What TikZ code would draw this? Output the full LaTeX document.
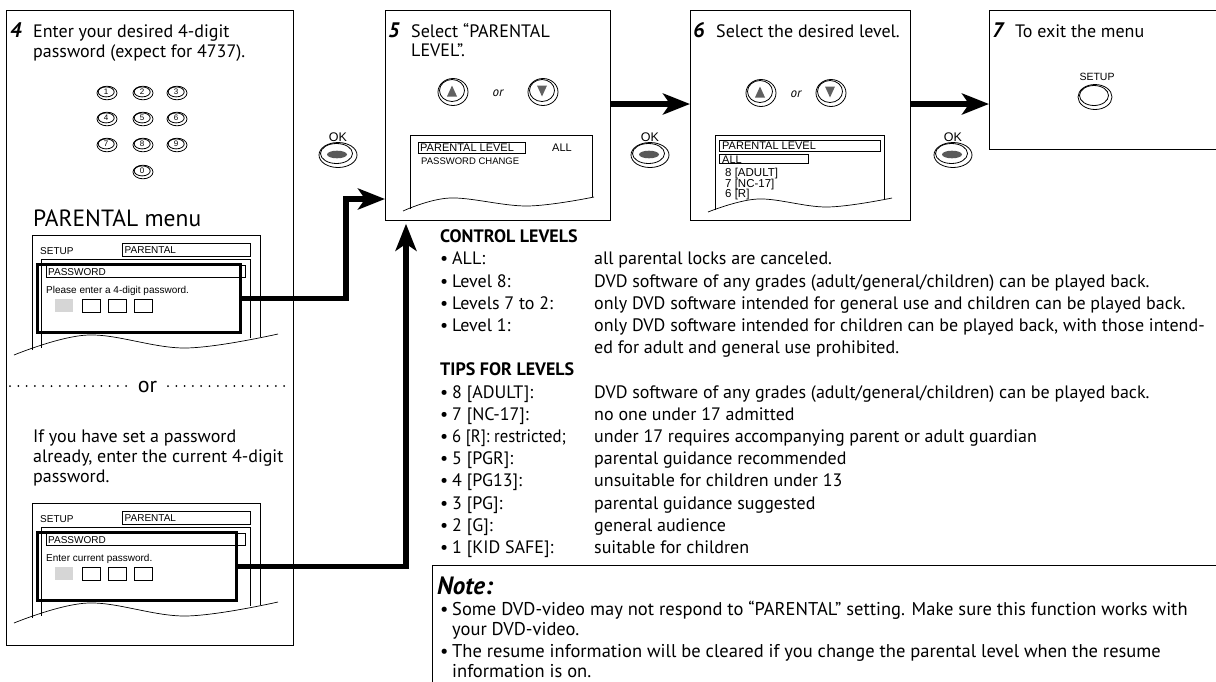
\documentclass[tikz,border=0pt]{standalone}
\usepackage{fontspec}
\setmainfont{PT Sans}
\newfontfamily\scrfont{Liberation Sans}
\usetikzlibrary{arrows.meta}
\newcommand\pwscreen[4]{%
\begin{scope}[shift={(0,#2)}]
 \draw[thinl] (32,350.1) -- (32,235) -- (260,235) -- (260,336.7);
 \draw[thinl] (41,347.7) -- (41,259) -- (250,259) -- (250,338.2);
 \draw[thinl] plot[smooth,tension=0.6] coordinates {(14,355) (88,335) (185,348) (278,334)};
 \node[sc] (#1setup) at (40,254) {SETUP};
 \node[fld, minimum width=128, minimum height=13] (#1pf) at (122,243) {};
 \node[sc] (#1pt) at (124.5,253.5) {PARENTAL};
 \node[fld, minimum width=199, minimum height=12] (#1pw) at (46,265) {};
 \node[sc] (#1pwt) at (48,275) {PASSWORD};
 \node[hl, minimum width=#4-36, minimum height=68] (#1hl) at (36,263) {};
 \node[sc] (#1msg) at (46,293) {#3};
 \fill[black!16] (55,299) rectangle (73,312);
 \draw[thinl] (82,299) rectangle (100,312);
 \draw[thinl] (108,299) rectangle (126,312);
 \draw[thinl] (134,299) rectangle (152,312);
\end{scope}}
\newcommand\abtn[4]{%
 \draw[btn] (#2,#3) ellipse [x radius=15pt, y radius=13.5pt];
 \draw[btn] (#2-1,#3-1.5) ellipse [x radius=12.5pt, y radius=11pt];
 \fill[black!62] (#2-1,#3-1-5.5*#4) -- (#2+4,#3-1+5.5*#4) -- (#2-6,#3-1+5.5*#4) -- cycle;
 \coordinate (#1) at (#2,#3);}
\newcommand\okbtn[3]{%
 \node[sc, anchor=base, font=\scrfont\fontsize{12.5}{12.5}\selectfont] (#1) at (#2,141) {OK};
 \draw[btn] (#2,#3) ellipse [x radius=19pt, y radius=12.5pt];
 \draw[btn] (#2-1.5,#3-1.5) ellipse [x radius=16pt, y radius=10pt];
 \fill[black!65] (#2-1,#3-0.5) ellipse [x radius=10pt, y radius=3.8pt];}
\newcommand\lvrow[4]{%
 \node[txt] (#1a) at (440,#2) {•};
 \node[txt] (#1b) at (452,#2) {#3};
 \node[txt] (#1c) at (594,#2) {#4};}
\begin{document}
\begin{tikzpicture}[x=1pt,y=-1pt, line join=miter,
  panel/.style={draw, line width=1.3pt, inner sep=0pt, anchor=north west},
  txt/.style={anchor=base west, inner sep=0pt, font=\fontsize{18}{20}\selectfont},
  ntxt/.style={anchor=base west, inner sep=0pt, font=\fontsize{18.5}{20}\selectfont},
  hd/.style={anchor=base west, inner sep=0pt, font=\fontsize{18}{20}\selectfont\bfseries},
  num/.style={anchor=base west, inner sep=0pt, font=\fontsize{21}{21}\selectfont\bfseries\itshape},
  sc/.style={anchor=base west, inner sep=0pt, font=\scrfont\fontsize{10}{10}\selectfont},
  fld/.style={draw, line width=0.7pt, inner sep=0pt, anchor=north west},
  thinl/.style={line width=0.7pt},
  hl/.style={draw, line width=2.6pt, inner sep=0pt, anchor=north west},
  conn/.style={line width=5.5pt, -{Stealth[length=27pt,width=21pt,inset=7pt]}},
  btn/.style={line width=0.8pt},
  keyl/.style={inner sep=0pt, font=\scrfont\fontsize{8}{8}\selectfont},
  dots/.style={line width=2pt, line cap=round, dash pattern=on 0pt off 8.3pt},
]
\useasboundingbox (0,0) rectangle (1216,681);
% panels
\node[panel, minimum width=286.7, minimum height=635] (p4) at (6,10) {};
\node[panel, minimum width=225, minimum height=210] (p5) at (385,10) {};
\node[panel, minimum width=220, minimum height=210] (p6) at (690,10) {};
\node[panel, minimum width=240, minimum height=139] (p7) at (989,10) {};
\node[panel, minimum width=800, minimum height=200] (nbox) at (432,565) {};
% panel 4
\node[num] (n4) at (10,37) {4};
\node[txt] (t4a) at (33,37) {Enter your desired 4-digit};
\node[txt] (t4b) at (33,57) {password (expect for 4737).};
\foreach \n/\x/\y in {1/107/93, 2/143/93, 3/177/93, 4/107/119, 5/143/119, 6/177/119, 7/107/145, 8/143/145, 9/177/145, 0/143/172} {
  \draw[btn] (\x,\y) ellipse [x radius=10pt, y radius=6.8pt];
  \draw[btn] (\x-0.8,\y-1.1) ellipse [x radius=8pt, y radius=5pt];
  \node[keyl] (k\n) at (\x-0.8,\y-1.1) {\n};
}
\node[anchor=base west, inner sep=0pt, font=\fontsize{23.5}{23.5}\selectfont] (pm) at (33,226) {PARENTAL menu};
\pwscreen{sa}{0}{Please enter a 4-digit password.}{239}
\draw[dots] (10,386) -- (127,386);
\draw[dots] (168,386) -- (291,386);
\node[anchor=base, inner sep=0pt, font=\fontsize{22}{22}\selectfont] (orl) at (147.5,392) {or};
\node[txt] (t4c) at (33,442) {If you have set a password};
\node[txt] (t4d) at (33,462) {already, enter the current 4-digit};
\node[txt] (t4e) at (33,482) {password.};
\pwscreen{sb}{268}{Enter current password.}{235}
% panel 5
\node[num] (n5) at (388,37) {5};
\node[txt] (t5a) at (411,37) {Select “PARENTAL};
\node[txt] (t5b) at (411,56) {LEVEL”.};
\abtn{b5u}{453}{92}{1}
\abtn{b5d}{543}{92}{-1}
\node[anchor=base, inner sep=0pt, font=\fontsize{13}{13}\selectfont\itshape] (or5) at (498,96) {or};
\draw[thinl] (410,209) -- (410,135) -- (592,135) -- (592,197);
\draw[thinl] plot[smooth,tension=0.6] coordinates {(403,211) (450,198) (527,206) (594,197)};
\node[fld, minimum width=107, minimum height=11] (s5f) at (418,142) {};
\node[sc, font=\scrfont\fontsize{11}{11}\selectfont] (s5a) at (420,151.5) {PARENTAL LEVEL};
\node[sc, font=\scrfont\fontsize{11}{11}\selectfont] (s5b) at (552,151.5) {ALL};
\node[sc, font=\scrfont\fontsize{9.5}{9.5}\selectfont] (s5c) at (421,164.5) {PASSWORD CHANGE};
% panel 6
\node[num] (n6) at (693,37) {6};
\node[txt] (t6a) at (716,37) {Select the desired level.};
\abtn{b6u}{761}{93}{1}
\abtn{b6d}{831}{93}{-1}
\node[anchor=base, inner sep=0pt, font=\fontsize{13}{13}\selectfont\itshape] (or6) at (796,97) {or};
\draw[thinl] (715,210) -- (715,135) -- (884,135) -- (884,199);
\draw[thinl] plot[smooth,tension=0.6] coordinates {(708,212) (758,199) (827,207) (892,198)};
\node[fld, minimum width=161, minimum height=11] (s6f) at (719,140) {};
\node[sc, font=\scrfont\fontsize{11}{11}\selectfont] (s6a) at (722,149.5) {PARENTAL LEVEL};
\node[fld, minimum width=89, minimum height=9] (s6g) at (719,154) {};
\node[sc, font=\scrfont\fontsize{11}{11}\selectfont] (s6b) at (722,163) {ALL};
\node[sc, font=\scrfont\fontsize{11.5}{11.5}\selectfont] (s6c) at (725,176) {8 [ADULT]};
\node[sc, font=\scrfont\fontsize{11.5}{11.5}\selectfont] (s6d) at (725,187) {7 [NC-17]};
\node[sc, font=\scrfont\fontsize{11.5}{11.5}\selectfont] (s6e) at (725,197.5) {6 [R]};
% panel 7
\node[num] (n7) at (992,37) {7};
\node[txt] (t7a) at (1015,37) {To exit the menu};
\node[sc, anchor=base, font=\scrfont\fontsize{10.5}{10.5}\selectfont] (s7) at (1097,80) {SETUP};
\draw[btn] (1095,97) ellipse [x radius=17pt, y radius=12.5pt];
\draw[btn] (1094,95.5) ellipse [x radius=14.5pt, y radius=10pt];
% OK buttons
\okbtn{ok1}{338}{155}
\okbtn{ok2}{650}{155}
\okbtn{ok3}{953}{155}
% connectors
\coordinate (r1) at (0,104);
\draw[conn] (p5.east |- r1) -- (p6.west |- r1);
\draw[conn] (p6.east |- r1) -- (p7.west |- r1);
\coordinate (c1) at (346,199);
\draw[conn] (sahl.east) -| (c1) -- (c1 -| p5.west);
\coordinate (c2) at (406,0);
\draw[conn, shorten >=2.5pt] (sbhl.east) -| (c2 |- p5.south);
% control levels
\node[hd] (hc) at (440,242.5) {CONTROL LEVELS};
\lvrow{ca}{264.5}{ALL:}{all parental locks are canceled.}
\lvrow{cb}{287}{Level 8:}{DVD software of any grades (adult/general/children) can be played back.}
\lvrow{cc}{309}{Levels 7 to 2:}{only DVD software intended for general use and children can be played back.}
\lvrow{cd}{331}{Level 1:}{only DVD software intended for children can be played back, with those intend-}
\node[txt] (cde) at (594,353.5) {ed for adult and general use prohibited.};
\node[hd] (ht) at (440,375.5) {TIPS FOR LEVELS};
\lvrow{ta}{398}{8 [ADULT]:}{DVD software of any grades (adult/general/children) can be played back.}
\lvrow{tb}{420}{7 [NC-17]:}{no one under 17 admitted}
\lvrow{tc}{442}{\scalebox{0.93}[1]{6 [R]: restricted;}}{under 17 requires accompanying parent or adult guardian}
\lvrow{td}{464.5}{5 [PGR]:}{parental guidance recommended}
\lvrow{te}{486.5}{4 [PG13]:}{unsuitable for children under 13}
\lvrow{tf}{509}{3 [PG]:}{parental guidance suggested}
\lvrow{tg}{531}{2 [G]:}{general audience}
\lvrow{th}{553}{1 [KID SAFE]:}{suitable for children}
% note
\node[anchor=base west, inner sep=0pt, font=\fontsize{25}{25}\selectfont\bfseries\itshape] (note) at (437,594) {Note:};
\node[ntxt] (nb1) at (440,615) {•};
\node[ntxt] (nt1) at (452,615) {Some DVD-video may not respond to “PARENTAL” setting. Make sure this function works with};
\node[ntxt] (nt2) at (452,635) {your DVD-video.};
\node[ntxt] (nb3) at (440,657) {•};
\node[ntxt] (nt3) at (452,657) {The resume information will be cleared if you change the parental level when the resume};
\node[ntxt] (nt4) at (452,677) {information is on.};
\end{tikzpicture}
\end{document}
